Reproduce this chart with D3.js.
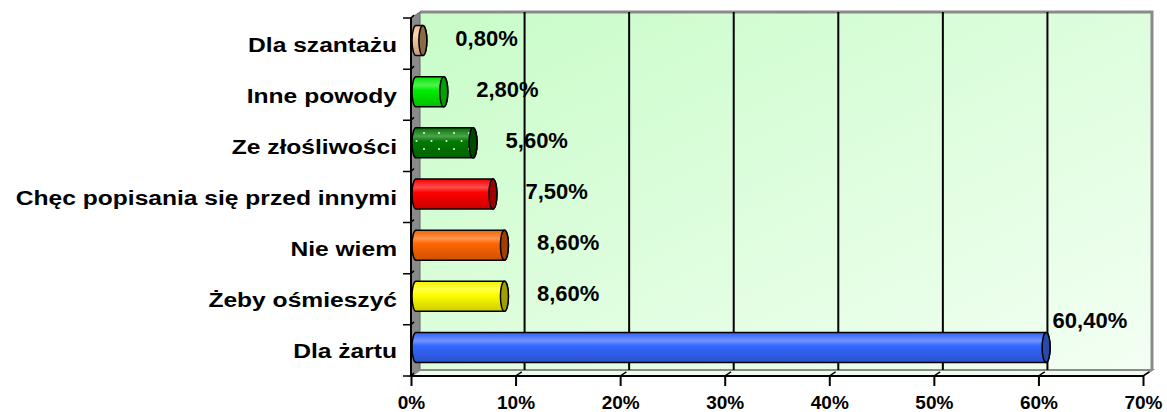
<html>
<head>
<meta charset="utf-8">
<script src="https://d3js.org/d3.v7.min.js"></script>
<style>
  body { margin: 0; background: white; }
  text { font-family: "Liberation Sans", Arial, sans-serif; font-weight: bold; fill: #000; }
</style>
</head>
<body>
<svg width="1167" height="412"></svg>
<script>
  // data
  var categories = ["Dla szantażu", "Inne powody", "Ze złośliwości", "Chęc popisania się przed innymi", "Nie wiem", "Żeby ośmieszyć", "Dla żartu"];
  var values = [0.8, 2.8, 5.6, 7.5, 8.6, 8.6, 60.4];
  var tickValues = [0, 10, 20, 30, 40, 50, 60, 70];
  var tickLabels = ["0%", "10%", "20%", "30%", "40%", "50%", "60%", "70%"];

  var bodyColors = ["#f4c499", "#00ee00", "#007a00", "#ff0000", "#ff6600", "#ffff00", "#3366ff"];
  var capColors = ["#8c6a48", "#00a000", "#004a00", "#a00000", "#a04000", "#a0a000", "#2a4aaa"];

  var svg = d3.select("svg");
  var defs = svg.append("defs");

  var x = d3.scaleLinear().domain([0, 70]).range([411, 1143]);
  var y = d3.scaleBand().domain(categories).range([18, 376]).padding(0);
  var dx = 9, dy = -6;       // 3d depth
  var floorY = y.range()[1];
  var wallTop = y.range()[0] + dy;

  // back wall gradient
  var wall = defs.append("linearGradient").attr("id", "wall")
    .attr("x1", "0").attr("y1", "0").attr("x2", "1").attr("y2", "1");
  wall.append("stop").attr("offset", "0%").attr("stop-color", "#c8fcc8");
  wall.append("stop").attr("offset", "100%").attr("stop-color", "#f3fff3");

  // dots for "Ze złośliwości"
  var pat = defs.append("pattern").attr("id", "dots").attr("patternUnits", "userSpaceOnUse")
    .attr("width", 15).attr("height", 16).attr("x", 3).attr("y", 4);
  pat.append("circle").attr("cx", 1).attr("cy", 1).attr("r", 1).attr("fill", "#e8ffe8");
  pat.append("circle").attr("cx", 8.5).attr("cy", 9).attr("r", 1).attr("fill", "#e8ffe8");

  // walls and floor
  svg.append("rect")
    .attr("x", x(0) + dx).attr("y", wallTop)
    .attr("width", x(70) - x(0)).attr("height", floorY - y.range()[0])
    .attr("fill", "url(#wall)");
  svg.append("path")
    .attr("d", "M" + (x(0) + dx) + "," + wallTop + "H" + (x(70) + dx) + "V" + (floorY + dy))
    .attr("fill", "none").attr("stroke", "#8a8a8a").attr("stroke-width", 3);
  svg.append("path")
    .attr("d", "M" + x(0) + "," + y.range()[0] + "L" + (x(0) + dx) + "," + wallTop +
      "V" + (floorY + dy) + "L" + x(0) + "," + floorY + "Z")
    .attr("fill", "#8a8a8a").attr("stroke", "#666").attr("stroke-width", 1);
  svg.append("path")
    .attr("d", "M" + x(0) + "," + floorY + "L" + (x(0) + dx) + "," + (floorY + dy) +
      "H" + (x(70) + dx) + "L" + x(70) + "," + floorY + "Z")
    .attr("fill", "#eefcee").attr("stroke", "#8a8a8a").attr("stroke-width", 2);

  // gridlines on back wall and floor
  svg.append("g").selectAll("line").data(tickValues.slice(1, -1)).enter()
    .append("line")
    .attr("x1", function(d) { return x(d) + dx; }).attr("x2", function(d) { return x(d) + dx; })
    .attr("y1", wallTop).attr("y2", floorY + dy)
    .attr("stroke", "#000").attr("stroke-width", 2);
  svg.append("g").selectAll("line").data(tickValues.slice(1)).enter()
    .append("line")
    .attr("x1", function(d) { return x(d); }).attr("x2", function(d) { return x(d) + dx * 0.7; })
    .attr("y1", floorY).attr("y2", floorY + dy * 0.7)
    .attr("stroke", "#000").attr("stroke-width", 1.5);

  // bar gradients
  categories.forEach(function(c, i) {
    var g = defs.append("linearGradient").attr("id", "bar" + i)
      .attr("x1", "0").attr("y1", "0").attr("x2", "0").attr("y2", "1");
    var base = bodyColors[i];
    g.append("stop").attr("offset", "0%").attr("stop-color", d3.interpolateRgb(base, "#000")(0.05));
    g.append("stop").attr("offset", "28%").attr("stop-color", d3.interpolateRgb(base, "#fff")(0.3));
    g.append("stop").attr("offset", "45%").attr("stop-color", base);
    g.append("stop").attr("offset", "100%").attr("stop-color", d3.interpolateRgb(base, "#000")(0.2));
  });

  var rx = 4, ry = 15, shift = -3;
  var bars = svg.append("g").selectAll("g").data(categories).enter().append("g");

  bars.append("path")
    .attr("d", function(d, i) {
      var cy = y(d) + y.bandwidth() / 2 + shift;
      var x0 = x(0) + 1, x1 = x(values[i]) + 3.5;
      return "M" + (x0 + rx) + "," + (cy - ry) + "L" + x1 + "," + (cy - ry) +
        "A" + rx + " " + ry + " 0 0 1 " + x1 + "," + (cy + ry) +
        "L" + (x0 + rx) + "," + (cy + ry) +
        "A" + rx + " " + ry + " 0 0 1 " + (x0 + rx) + "," + (cy - ry) + "Z";
    })
    .attr("fill", function(d, i) { return "url(#bar" + i + ")"; })
    .attr("stroke", "#000").attr("stroke-width", 1.5);

  bars.filter(function(d) { return d === "Ze złośliwości"; })
    .append("path")
    .attr("d", function(d) {
      var i = categories.indexOf(d);
      var cy = y(d) + y.bandwidth() / 2 + shift;
      return "M" + (x(0) + 3) + "," + (cy - ry + 2) + "H" + (x(values[i]) + 1) + "V" + (cy + ry - 2) + "H" + (x(0) + 3) + "Z";
    })
    .attr("fill", "url(#dots)");

  bars.append("ellipse")
    .attr("cx", function(d, i) { return x(values[i]) + 3.5; })
    .attr("cy", function(d) { return y(d) + y.bandwidth() / 2 + shift; })
    .attr("rx", rx).attr("ry", ry)
    .attr("fill", function(d, i) { return capColors[i]; })
    .attr("stroke", "#000").attr("stroke-width", 1.5);

  // value labels
  var maxV = d3.max(values);
  svg.append("g").selectAll("text").data(categories).enter()
    .append("text")
    .attr("x", function(d, i) { return values[i] === maxV ? x(values[i]) + 10 : x(values[i]) + 36; })
    .attr("y", function(d, i) {
      var cy = y(d) + y.bandwidth() / 2;
      return values[i] === maxV ? cy - 22 : cy + 2;
    })
    .style("font-size", "22px")
    .text(function(d, i) { return values[i].toFixed(2).replace(".", ",") + "%"; });

  // left axis
  svg.append("line")
    .attr("x1", x(0)).attr("x2", x(0)).attr("y1", y.range()[0]).attr("y2", floorY)
    .attr("stroke", "#000").attr("stroke-width", 2);
  var bounds = categories.map(function(c) { return y(c); }).concat([floorY]);
  svg.append("g").selectAll("path").data(bounds).enter()
    .append("path")
    .attr("d", function(d) { return "M" + (x(0) - 8) + "," + d + "H" + x(0) + "l3,-3"; })
    .attr("fill", "none").attr("stroke", "#000").attr("stroke-width", 1.5);

  svg.append("g").selectAll("text").data(categories).enter()
    .append("text")
    .attr("transform", function(d) {
      return "translate(397," + (y(d) + y.bandwidth() / 2 + 8) + ") scale(1.23,1)";
    })
    .attr("text-anchor", "end")
    .style("font-size", "20px")
    .text(function(d) { return d; });

  // bottom axis
  var xAxis = d3.axisBottom(x).tickValues(tickValues)
    .tickFormat(function(d, i) { return tickLabels[i]; })
    .tickSize(10).tickPadding(10);
  var ax = svg.append("g").attr("transform", "translate(0," + floorY + ")").call(xAxis);
  ax.select(".domain").attr("stroke", "#000").attr("stroke-width", 2).attr("d", "M" + x(0) + ",0H" + x(70));
  ax.selectAll(".tick line").attr("stroke", "#000").attr("stroke-width", 2);
  ax.selectAll(".tick text")
    .style("font-size", "19px").style("font-family", "'Liberation Sans', Arial, sans-serif")
    .style("font-weight", "bold").attr("fill", "#000");
</script>
</body>
</html>
